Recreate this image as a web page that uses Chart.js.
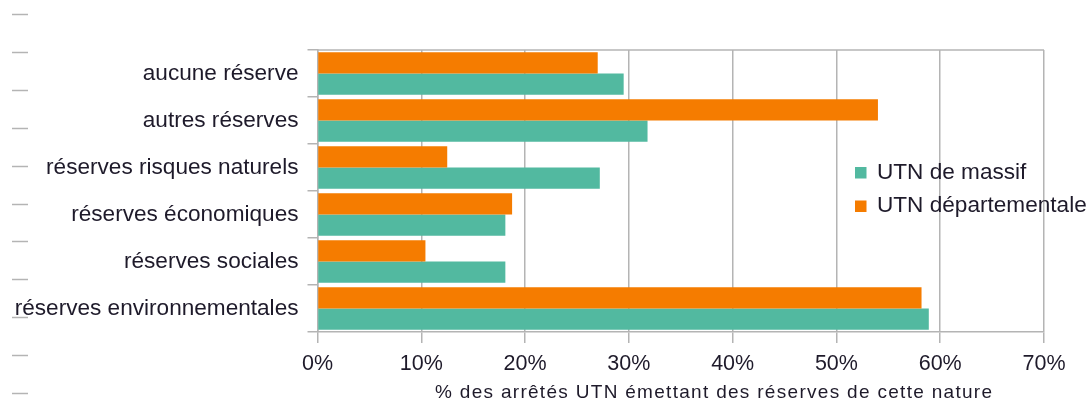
<!DOCTYPE html>
<html>
<head>
<meta charset="utf-8">
<script src="https://cdn.jsdelivr.net/npm/chart.js@4.4.1/dist/chart.umd.min.js"></script>
<style>
  html, body { margin: 0; padding: 0; background: #fff; }
  #wrap { width: 1089px; height: 403px; position: relative; }
</style>
</head>
<body>
<div id="wrap"><canvas id="chart"></canvas></div>
<script>
// --- data ---
const categories = [
    'aucune réserve',
    'autres réserves',
    'réserves risques naturels',
    'réserves économiques',
    'réserves sociales',
    'réserves environnementales'
];
const utnDepartementale = [27.0, 54.0, 12.5, 18.75, 10.4, 58.2];
const utnMassif = [29.5, 31.8, 27.2, 18.1, 18.1, 58.9];
const xMax = 70;
const xStep = 10;
const axisTitle = '% des arrêtés UTN émettant des réserves de cette nature';

const ORANGE = '#f57c00';
const TEAL = '#52b9a0';
const GRID = '#b4b4b4';
const TEXT = '#1e1a2a';
const FAMILY = "'Liberation Sans', Arial";

// extras: top border, legend inside plot, offset axis title, ruler dashes on the left
const extras = {
    id: 'extras',
    afterDraw(chart) {
        const ctx = chart.ctx;
        const a = chart.chartArea;
        ctx.save();

        // top frame line
        ctx.strokeStyle = GRID;
        ctx.lineWidth = 1.5;
        ctx.beginPath();
        ctx.moveTo(a.left, a.top);
        ctx.lineTo(a.right, a.top);
        ctx.stroke();

        // ruler dashes
        for (let y = 14; y < 400; y += 37.9) {
            ctx.beginPath();
            ctx.moveTo(12, Math.round(y) + 0.5);
            ctx.lineTo(28, Math.round(y) + 0.5);
            ctx.stroke();
        }

        // legend (massif first, then départementale)
        ctx.font = `22.6px ${FAMILY}`;
        ctx.textBaseline = 'alphabetic';
        ctx.textAlign = 'left';
        const items = [...chart.data.datasets].reverse();
        items.forEach((ds, i) => {
            const y = 178.5 + i * 33.5;
            ctx.fillStyle = ds.backgroundColor;
            ctx.fillRect(855, y - 11.5, 11.5, 11.5);
            ctx.fillStyle = TEXT;
            ctx.fillText(ds.label, 877, y);
        });

        // axis title
        ctx.font = `19px ${FAMILY}`;
        if ('letterSpacing' in ctx) ctx.letterSpacing = '1.3px';
        ctx.fillStyle = TEXT;
        ctx.fillText(axisTitle, 435, 398);
        ctx.restore();
    }
};

const ctx = document.getElementById('chart').getContext('2d');
new Chart(ctx, {
    type: 'bar',
    data: {
        labels: categories,
        datasets: [
            { label: 'UTN départementale', data: utnDepartementale, backgroundColor: ORANGE },
            { label: 'UTN de massif', data: utnMassif, backgroundColor: TEAL }
        ]
    },
    options: {
        indexAxis: 'y',
        responsive: true,
        maintainAspectRatio: false,
        animation: false,
        devicePixelRatio: 1,
        categoryPercentage: 0.9,
        barPercentage: 1.0,
        layout: { padding: { top: 50, right: 45, left: 0, bottom: 0 } },
        plugins: { legend: { display: false }, tooltip: { enabled: false } },
        scales: {
            x: {
                min: 0, max: xMax,
                ticks: {
                    stepSize: xStep,
                    callback: v => v + '%',
                    color: TEXT,
                    font: { family: FAMILY, size: 21.5 },
                    padding: 8,
                    maxRotation: 0
                },
                grid: { color: GRID, lineWidth: 1.5, tickLength: 11 },
                border: { display: true, color: GRID, width: 1.5 },
                afterFit: s => { s.height = 71; }
            },
            y: {
                ticks: {
                    color: TEXT,
                    font: { family: FAMILY, size: 22.6 },
                    padding: 9
                },
                grid: { color: GRID, lineWidth: 1.5, tickLength: 10, drawOnChartArea: false },
                border: { display: true, color: GRID, width: 1.5 },
                afterFit: s => { s.width = 317.5; }
            }
        }
    },
    plugins: [extras]
});
</script>
</body>
</html>
